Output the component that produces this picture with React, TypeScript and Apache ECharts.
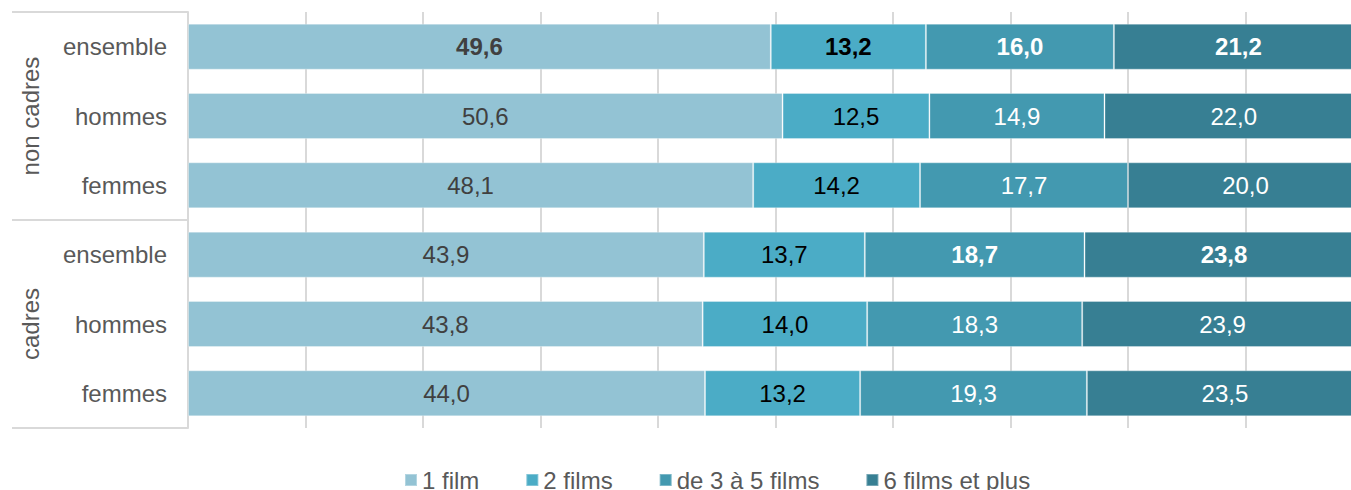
import React, { useEffect, useRef } from "react";
import * as echarts from "echarts";

const rowKeys = ["nc-ens", "nc-h", "nc-f", "c-ens", "c-h", "c-f"];
const rowLabels = ["ensemble", "hommes", "femmes", "ensemble", "hommes", "femmes"];
const groupLabels = ["non cadres", "cadres"];
const seriesNames = ["1 film", "2 films", "de 3 à 5 films", "6 films et plus"];
const oneFilm = [49.6, 50.6, 48.1, 43.9, 43.8, 44.0];
const twoFilms = [13.2, 12.5, 14.2, 13.7, 14.0, 13.2];
const threeToFive = [16.0, 14.9, 17.7, 18.7, 18.3, 19.3];
const sixPlus = [21.2, 22.0, 20.0, 23.8, 23.9, 23.5];
// bold labels: [series index][row index]
const boldCells: number[][] = [[0], [0], [0, 3], [0, 3]];

const colors = ["#93c3d4", "#4bacc6", "#4399b0", "#377f93"];
const labelColors = ["#404040", "#000000", "#ffffff", "#ffffff"];
const FONT = "'Liberation Sans', Arial, sans-serif";
const FS = 24;

export default function App() {
  const ref = useRef<HTMLDivElement>(null);
  useEffect(() => {
    document.body.style.margin = "0";
    document.body.style.overflow = "hidden";
    if (!ref.current) return;
    const chart = echarts.init(ref.current, null, { renderer: "svg" });
    const allData = [oneFilm, twoFilms, threeToFive, sixPlus];
    const series = allData.map((arr, si) => ({
      name: seriesNames[si],
      type: "bar",
      stack: "total",
      barWidth: 46,
      itemStyle: { color: colors[si], borderColor: "rgba(255,255,255,0.3)", borderWidth: 1 },
      label: {
        show: true,
        position: "inside",
        fontFamily: FONT,
        fontSize: FS,
        color: labelColors[si],
        formatter: (p: any) => Number(p.value).toFixed(1).replace(".", ","),
      },
      data: arr.map((v, i) =>
        boldCells[si].includes(i) ? { value: v, label: { fontWeight: "bold" } } : v
      ),
    }));
    const lineStyle = { stroke: "#d9d9d9", lineWidth: 2 };
    chart.setOption({
      animation: false,
      textStyle: { fontFamily: FONT },
      grid: { left: 188, top: 12, width: 1175, height: 416, containLabel: false },
      legend: {
        data: seriesNames,
        left: 399,
        top: 463,
        icon: "rect",
        itemWidth: 12,
        itemHeight: 12,
        itemGap: 46,
        textStyle: { fontFamily: FONT, fontSize: FS, color: "#595959" },
      },
      xAxis: {
        type: "value",
        min: 0,
        max: 100,
        interval: 10,
        axisLabel: { show: false },
        axisLine: { show: false },
        axisTick: { show: false },
        splitLine: { show: true, lineStyle: { color: "#d9d9d9", width: 2 } },
      },
      yAxis: {
        type: "category",
        data: rowKeys,
        inverse: true,
        axisLine: { show: true, lineStyle: { color: "#d9d9d9", width: 2 } },
        axisTick: { show: false },
        axisLabel: {
          fontFamily: FONT,
          fontSize: FS,
          color: "#595959",
          margin: 21,
          formatter: (_v: string, idx: number) => rowLabels[idx],
        },
      },
      graphic: [
        { type: "line", shape: { x1: 12, y1: 12, x2: 188, y2: 12 }, style: lineStyle },
        { type: "line", shape: { x1: 12, y1: 220, x2: 188, y2: 220 }, style: lineStyle },
        { type: "line", shape: { x1: 12, y1: 428, x2: 188, y2: 428 }, style: lineStyle },
        {
          type: "text",
          x: 30,
          y: 116,
          rotation: Math.PI / 2,
          style: { text: groupLabels[0], align: "center", verticalAlign: "middle", fontSize: FS, fontFamily: FONT, fill: "#595959" },
        },
        {
          type: "text",
          x: 30,
          y: 324,
          rotation: Math.PI / 2,
          style: { text: groupLabels[1], align: "center", verticalAlign: "middle", fontSize: FS, fontFamily: FONT, fill: "#595959" },
        },
      ],
      series,
    });
    return () => chart.dispose();
  }, []);
  return (
    <div style={{ width: 1351, height: 490, overflow: "hidden" }}>
      <div ref={ref} style={{ width: 1380, height: 490 }} />
    </div>
  );
}
